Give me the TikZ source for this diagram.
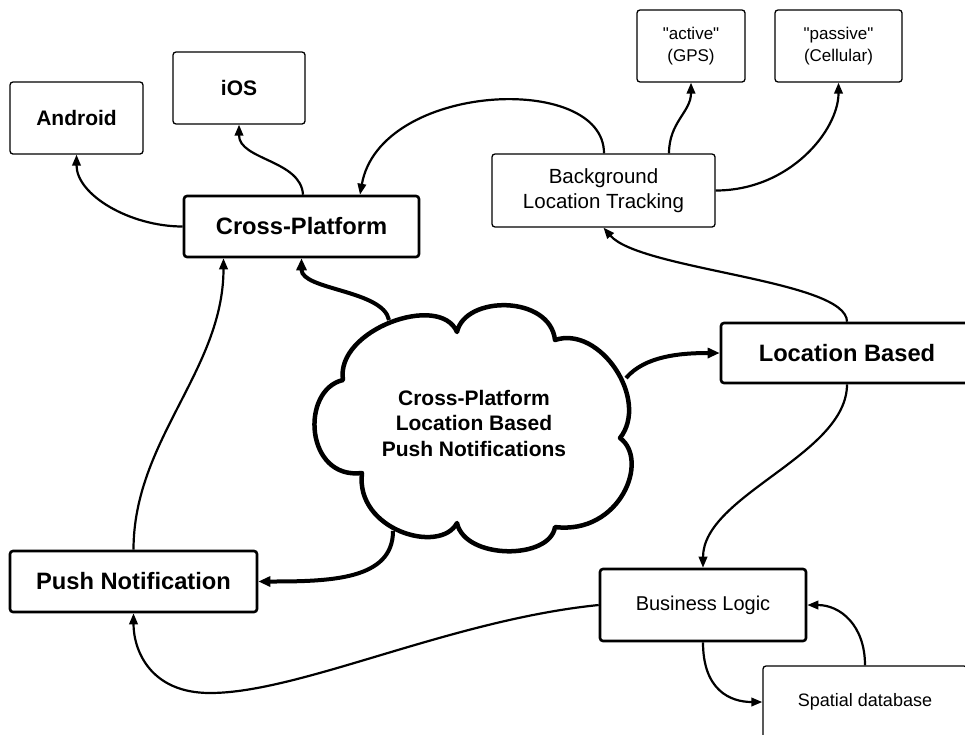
\documentclass[tikz,border=0pt]{standalone}
\usepackage{fontspec}
\setmainfont{Liberation Sans}[Ligatures=TeXOff]
\usetikzlibrary{arrows.meta}
\tikzset{
  thinbox/.style={draw=black, line width=1.3pt, rounded corners=3pt, fill=white, align=center, inner sep=0pt},
  thickbox/.style={draw=black, line width=2.6pt, rounded corners=3pt, fill=white, align=center, inner sep=0pt},
  conn/.style={line width=2.2pt, -{Triangle[length=11pt,width=8.5pt]}},
  thickconn/.style={line width=4pt, -{Triangle[length=12pt,width=10pt]}},
}
\begin{document}
\begin{tikzpicture}[x=1pt,y=-1pt]
\fill[white] (0,0) rectangle (965,734);
\useasboundingbox (0,0) rectangle (965,734);

% nodes
\node[thinbox, minimum width=133pt, minimum height=72pt, font=\fontsize{21}{25}\selectfont\bfseries] (android) at (76.5,118) {Android};
\node[thinbox, minimum width=132pt, minimum height=72pt, font=\fontsize{21}{25}\selectfont\bfseries] (ios) at (239,88) {iOS};
\node[thickbox, minimum width=235pt, minimum height=61pt, font=\fontsize{23.7}{28}\selectfont\bfseries] (cp) at (301.5,226.5) {Cross-Platform};
\node[thinbox, minimum width=223pt, minimum height=73pt, font=\fontsize{20.5}{25}\selectfont] (blt) at (603.5,190.5) {Background\\Location Tracking};
\node[thinbox, minimum width=108pt, minimum height=72pt, font=\fontsize{17}{22}\selectfont] (active) at (691,46) {"active"\\(GPS)};
\node[thinbox, minimum width=127pt, minimum height=72pt, font=\fontsize{17}{22}\selectfont] (passive) at (838.5,46) {"passive"\\(Cellular)};
\node[thickbox, minimum width=252pt, minimum height=60pt, font=\fontsize{23.7}{28}\selectfont\bfseries] (lb) at (847,353) {Location Based};
\node[thickbox, minimum width=247pt, minimum height=61pt, font=\fontsize{23.7}{28}\selectfont\bfseries] (pn) at (133.5,581.5) {Push Notification};
\node[thickbox, minimum width=206pt, minimum height=72pt, font=\fontsize{20}{24}\selectfont] (bl) at (703,605) {Business Logic};
\node[thinbox, minimum width=204pt, minimum height=72pt, font=\fontsize{18}{22}\selectfont] (sd) at (865,702) {Spatial database};

% cloud attachment coordinates
\coordinate (cloudA) at (389,320);
\coordinate (cloudB) at (626,378);
\coordinate (cloudC) at (393,531);

% connectors
\draw[conn] (cp.west) .. controls (130,226.5) and (76.5,195) .. (android.south);
\draw[conn] ([xshift=1.5pt]cp.north) .. controls (301,160) and (239,160) .. (ios.south);
\draw[conn] ([xshift=0.5pt]blt.north) .. controls (604,72) and (380,82) .. ([xshift=58.5pt]cp.north);
\draw[conn] ([xshift=65.5pt]blt.north) .. controls (669,122) and (691,112) .. (active.south);
\draw[conn] (blt.east) .. controls (790,190.5) and (838.5,130) .. (passive.south);
\draw[conn] (lb.north) .. controls (847,280) and (640,270) .. (blt.south);
\draw[conn] (lb.south) .. controls (847,455) and (703,495) .. (bl.north);
\draw[conn] (bl.west) .. controls (450,620) and (300,693) .. (210,693) .. controls (150,693) and (133.5,650) .. (pn.south);
\draw[conn] (sd.north) .. controls (865,625) and (840,605) .. (bl.east);
\draw[conn] (bl.south) .. controls (703,690) and (730,702) .. (sd.west);
\draw[conn] (pn.north) .. controls (133.5,440) and (223.5,370) .. ([xshift=-78pt]cp.south);
\draw[thickconn] (cloudA) .. controls (383,290) and (301.5,290) .. (cp.south);
\draw[thickconn] (cloudB) .. controls (645,356) and (680,353) .. (lb.west);
\draw[thickconn] (cloudC) .. controls (393,580) and (330,581.5) .. (pn.east);

% cloud
\draw[line width=4.5pt, fill=white, line join=round]
  (343,380) .. controls (335,330) and (440,292) .. (457,332)
  .. controls (465,295) and (550,295) .. (555,340)
  .. controls (600,325) and (650,400) .. (620,438)
  .. controls (650,460) and (620,535) .. (555,527)
  .. controls (550,560) and (465,560) .. (457,523)
  .. controls (440,555) and (355,530) .. (362,473)
  .. controls (305,480) and (300,390) .. cycle;
\node[align=center, font=\fontsize{21}{25.5}\selectfont\bfseries] (cloudtext) at (474,423) {Cross-Platform\\Location Based\\Push Notifications};
\end{tikzpicture}
\end{document}
